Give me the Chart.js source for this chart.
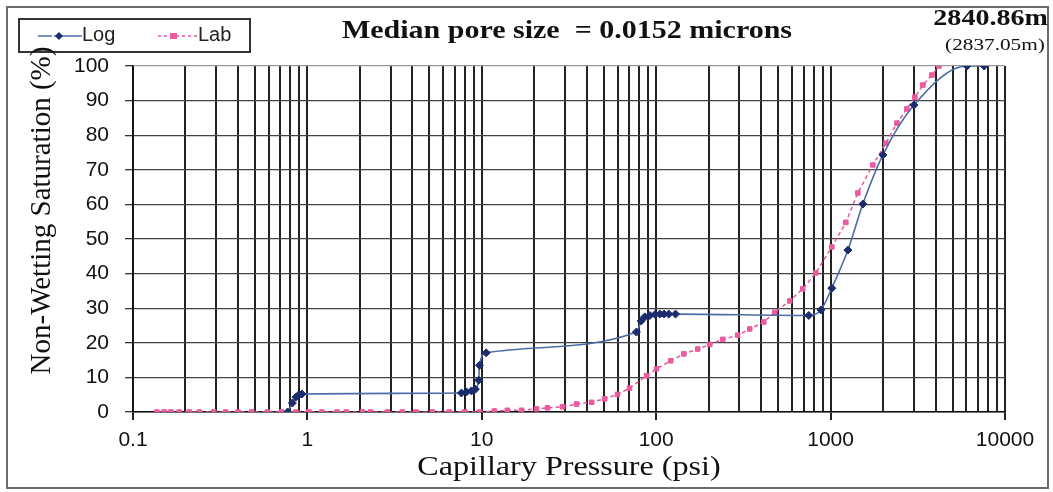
<!DOCTYPE html>
<html>
<head>
<meta charset="utf-8">
<script src="https://cdn.jsdelivr.net/npm/chart.js@4.4.0/dist/chart.umd.min.js"></script>
<style>
  body { margin: 0; background: #fff; }
  #wrap { position: relative; width: 1053px; height: 492px; overflow: hidden; background: #fff; }
  #frame { position: absolute; left: 6px; top: 6px; width: 1039px; height: 479px; border: 2px solid #6b6b6b; }
  #chart { position: absolute; left: 0; top: 0; }
  .legend { position: absolute; left: 18px; top: 18px; width: 229px; height: 31px; border: 2px solid #333;
            font: 20px "Liberation Sans", Arial, sans-serif; color: #222; }
  .legend span { position: absolute; top: 3px; }
  .legend svg { position: absolute; top: 9px; }
  .txt { position: absolute; white-space: pre; color: #111; }
  .title { left: 267px; top: 16px; width: 600px; text-align: center; transform: scaleX(1.2);
           font: bold 25px "Liberation Serif", "Times New Roman", serif; }
  .depth { right: 5px; top: 5px; text-align: right; transform: scaleX(1.22); transform-origin: right center;
           font: bold 23px "Liberation Serif", serif; }
  .depth2 { right: 8px; top: 35px; text-align: right; transform: scaleX(1.25); transform-origin: right center;
            font: 17px "Liberation Serif", serif; }
  .ytitle { left: -160px; top: 194px; width: 400px; text-align: center; transform: rotate(-90deg);
            font: 29px "Liberation Serif", serif; }
  .xtitle { left: 319px; top: 451px; width: 500px; text-align: center; transform: scaleX(1.19);
            font: 27px "Liberation Serif", serif; }
</style>
</head>
<body>
<div id="wrap">
  <canvas id="chart" width="1053" height="492"></canvas>
  <div id="frame"></div>
  <div class="legend">
    <svg width="44" height="14" style="left:18px">
      <line x1="0" y1="7" x2="44" y2="7" stroke="#4c6ca8" stroke-width="1.6" stroke-dasharray="14,2,3,2,30"/>
      <polygon points="21,3 25,7 21,11 17,7" fill="#1c2c6c"/>
    </svg>
    <span style="left:62px">Log</span>
    <svg width="40" height="14" style="left:138px">
      <line x1="0" y1="7" x2="40" y2="7" stroke="#e9579d" stroke-width="1.5" stroke-dasharray="3,3"/>
      <rect x="12" y="4" width="7" height="6" fill="#ec5aa0"/>
    </svg>
    <span style="left:178px">Lab</span>
  </div>
  <div class="txt title">Median pore size  = 0.0152 microns</div>
  <div class="txt depth">2840.86m</div>
  <div class="txt depth2">(2837.05m)</div>
  <div class="txt ytitle">Non-Wetting Saturation (%)</div>
  <div class="txt xtitle">Capillary Pressure (psi)</div>
</div>
<script>
// log-derived curve
const logPressure = [0.77, 0.82, 0.86, 0.89, 0.93, 7.64, 8.17, 8.72, 9.19, 9.6, 9.7, 10.6,
  77, 82, 86, 92, 98.5, 105, 111, 118, 129, 750, 880, 1016, 1256, 1531, 1995, 3006, 6055, 7590];
const logSaturation = [0, 2.6, 4.3, 4.9, 5.2, 5.5, 5.8, 6.1, 6.6, 9.2, 13.5, 17.1,
  23.1, 26.3, 27.5, 27.9, 28.2, 28.3, 28.3, 28.3, 28.3, 27.9, 29.5, 35.8, 46.8, 60.1, 74.3, 88.7, 100, 100];

// lab mercury injection curve
const labPressure = [0.137, 0.151, 0.165, 0.184, 0.21, 0.24, 0.29, 0.34, 0.4, 0.48, 0.59, 0.71, 0.86,
  1.02, 1.21, 1.48, 1.67, 2.07, 2.3, 2.87, 3.5, 4.2, 5.2, 6.5, 8.0, 9.7, 11.8, 14, 16.9, 20.6, 23.8,
  29, 34.9, 42.6, 50.6, 60, 70.3, 88.1, 100.5, 121, 144, 173, 203, 241, 293, 344, 414, 478, 583,
  692, 822, 1016, 1223, 1433, 1747, 2075, 2400, 2738, 3041, 3381, 3810, 4179];
const labSaturation = [0, 0, 0, 0, 0, 0, 0, 0, 0, 0, 0, 0, 0,
  0, 0, 0, 0, 0, 0, 0, 0, 0, 0, 0, 0, 0, 0.3, 0.5, 0.5, 0.9, 1.2,
  1.5, 2.3, 2.8, 3.8, 5.1, 6.9, 10.5, 12.5, 14.8, 16.8, 18.2, 19.5, 21, 22.2, 24, 26, 28.8, 32.1,
  35.6, 40.2, 47.7, 54.8, 63.3, 71.4, 77.7, 83.5, 87.6, 91, 94.5, 97.4, 100];

const xTickLabels = ['0.1', '1', '10', '100', '1000', '10000'];
const yTickLabels = [0, 10, 20, 30, 40, 50, 60, 70, 80, 90, 100];

const toPoints = (xs, ys) => xs.map((x, i) => ({ x: x, y: ys[i] }));
const isDecade = v => xTickLabels.some(l => Math.abs(Number(l) - v) < 1e-9);
const tickFont = { family: '"Liberation Sans", Arial, sans-serif', size: 21 };

new Chart(document.getElementById('chart'), {
  type: 'scatter',
  data: {
    datasets: [{
      label: 'Log',
      data: toPoints(logPressure, logSaturation),
      showLine: true,
      borderColor: '#4c6ca8',
      borderWidth: 1.6,
      cubicInterpolationMode: 'monotone',
      pointStyle: 'rectRot',
      pointRadius: 4,
      pointBackgroundColor: '#1c2c6c',
      pointBorderColor: '#1c2c6c',
      pointBorderWidth: 1
    }, {
      label: 'Lab',
      data: toPoints(labPressure, labSaturation),
      showLine: true,
      borderColor: '#e9579d',
      borderWidth: 1.5,
      borderDash: [4, 3],
      pointStyle: 'rect',
      pointRadius: 3.2,
      pointBackgroundColor: '#ec5aa0',
      pointBorderColor: '#e9579d',
      pointBorderWidth: 1
    }]
  },
  options: {
    responsive: false,
    animation: false,
    layout: { padding: { left: 0, top: 66, right: 48, bottom: 0 } },
    plugins: { legend: { display: false }, tooltip: { enabled: false } },
    elements: { line: { tension: 0 } },
    scales: {
      x: {
        type: 'logarithmic',
        min: 0.1,
        max: 10000,
        afterFit: s => { s.height = 80; },
        afterBuildTicks: s => {
          const vals = [];
          for (let e = -1; e <= 3; e++) {
            for (let m = 1; m <= 9; m++) vals.push(Number((m * Math.pow(10, e)).toPrecision(3)));
          }
          vals.push(10000);
          s.ticks = vals.map(v => ({ value: v, major: isDecade(v) }));
        },
        grid: {
          color: '#222',
          lineWidth: 2,
          tickLength: 8,
          tickColor: ctx => (ctx.tick && isDecade(ctx.tick.value)) ? '#222' : 'rgba(0,0,0,0)'
        },
        border: { color: '#111', width: 1.5 },
        ticks: {
          autoSkip: false,
          maxRotation: 0,
          padding: 8,
          color: '#111',
          font: tickFont,
          callback: v => isDecade(v) ? String(v) : ''
        }
      },
      y: {
        min: 0,
        max: 100,
        afterFit: s => { s.width = 133; },
        grid: {
          color: ctx => (ctx.tick && ctx.tick.value === 100) ? '#9a9a9a' : '#444',
          lineWidth: 1.3,
          tickLength: 8,
          tickColor: ctx => (ctx.tick && ctx.tick.value % 10 === 0) ? '#333' : 'rgba(0,0,0,0)'
        },
        border: { color: '#111', width: 1.5 },
        ticks: {
          stepSize: 5,
          padding: 16,
          color: '#111',
          font: tickFont,
          callback: v => yTickLabels.includes(v) ? String(v) : ''
        }
      }
    }
  }
});
</script>
</body>
</html>
